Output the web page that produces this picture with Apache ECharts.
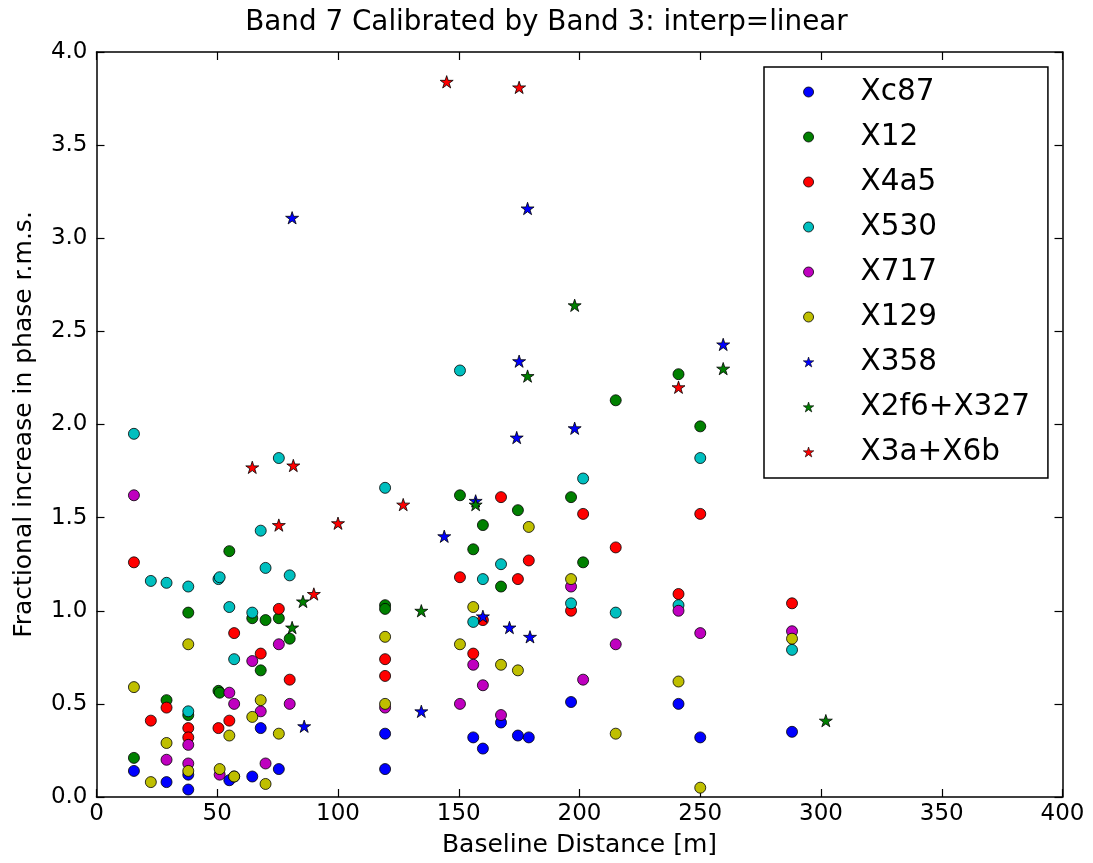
<!DOCTYPE html>
<html>
<head>
<meta charset="utf-8">
<title>Band 7 Calibrated by Band 3</title>
<script src="https://cdn.jsdelivr.net/npm/echarts@6/dist/echarts.min.js"></script>
<style>
  html, body { margin: 0; padding: 0; background: #ffffff; }
  #chart { width: 1093px; height: 863px; }
</style>
</head>
<body>
<div id="chart"></div>
<script>
// Baseline distance [m] vs fractional increase in phase r.m.s., one list per antenna group
const seriesNames = ['Xc87', 'X12', 'X4a5', 'X530', 'X717', 'X129', 'X358', 'X2f6+X327', 'X3a+X6b'];

const xc87 = [[15.5,0.14],[29,0.08],[38,0.04],[38,0.12],[55,0.09],[57,0.11],[64.5,0.11],[68,0.37],[75.5,0.15],
  [119.5,0.34],[119.5,0.15],[156,0.32],[160,0.26],[167.5,0.40],[174.5,0.33],[179,0.32],[196.5,0.51],[241,0.50],[250,0.32],[288,0.35]];
const x12 = [[15.5,0.21],[29,0.52],[38,0.99],[38,0.44],[50.5,0.57],[51,0.56],[55,1.32],[64.5,0.96],[68,0.68],[70,0.95],[75.5,0.96],[80,0.85],
  [119.5,1.03],[119.5,1.01],[150.5,1.62],[156,1.33],[160,1.46],[167.5,1.13],[174.5,1.54],[196.5,1.61],[201.5,1.26],[215,2.13],[241,2.27],[250,1.99]];
const x4a5 = [[15.5,1.26],[22.5,0.41],[29,0.48],[38,0.37],[38,0.32],[50.5,0.37],[55,0.41],[57,0.88],[68,0.77],[75.5,1.01],[80,0.63],
  [119.5,0.74],[119.5,0.65],[150.5,1.18],[156,0.77],[160,0.95],[167.5,1.61],[174.5,1.17],[179,1.27],[196.5,1.00],[201.5,1.52],[215,1.34],[241,1.09],[250,1.52],[288,1.04]];
const x530 = [[15.5,1.95],[22.5,1.16],[29,1.15],[38,1.13],[38,0.46],[50.5,1.17],[51,1.18],[55,1.02],[57,0.74],[64.5,0.99],[68,1.43],[70,1.23],[75.5,1.82],[80,1.19],
  [119.5,1.66],[150.5,2.29],[156,0.94],[160,1.17],[167.5,1.25],[196.5,1.04],[201.5,1.71],[215,0.99],[241,1.03],[250,1.82],[288,0.79]];
const x717 = [[15.5,1.62],[29,0.20],[38,0.28],[38,0.18],[51,0.12],[55,0.56],[57,0.50],[64.5,0.73],[68,0.46],[70,0.18],[75.5,0.82],[80,0.50],
  [119.5,0.48],[150.5,0.50],[156,0.71],[160,0.60],[167.5,0.44],[196.5,1.13],[201.5,0.63],[215,0.82],[241,1.00],[250,0.88],[288,0.89]];
const x129 = [[15.5,0.59],[22.5,0.08],[29,0.29],[38,0.82],[38,0.14],[51,0.15],[55,0.33],[57,0.11],[64.5,0.43],[68,0.52],[70,0.07],[75.5,0.34],
  [119.5,0.86],[119.5,0.50],[150.5,0.82],[156,1.02],[167.5,0.71],[174.5,0.68],[179,1.45],[196.5,1.17],[215,0.34],[241,0.62],[250,0.05],[288,0.85]];
const x358 = [[81,3.11],[86,0.38],[134.5,0.46],[144,1.40],[157,1.59],[160,0.97],[171,0.91],[174,1.93],[175,2.34],[178.5,3.16],[179.5,0.86],[198,1.98],[259.5,2.43]];
const x2f6x327 = [[81,0.91],[85.5,1.05],[134.5,1.00],[157,1.57],[178.5,2.26],[198,2.64],[259.5,2.30],[302,0.41]];
const x3ax6b = [[64.5,1.77],[75.5,1.46],[81.5,1.78],[90,1.09],[100,1.47],[127,1.57],[145,3.84],[175,3.81],[241,2.20]];

const seriesData = [xc87, x12, x4a5, x530, x717, x129, x358, x2f6x327, x3ax6b];
const seriesColors = ['#0000ff', '#008000', '#ff0000', '#00bfbf', '#bf00bf', '#bfbf00', '#0000ff', '#008000', '#ff0000'];
const seriesMarkers = ['circle', 'circle', 'circle', 'circle', 'circle', 'circle', 'star', 'star', 'star'];

// five-pointed star outline
const STAR = 'path://M50 0 L61.2 34.59 L97.55 34.55 L68.12 55.89 L79.39 90.45 L50 69.05 L20.61 90.45 L31.88 55.89 L2.45 34.55 L38.8 34.59 Z';

const FONT = '"DejaVu Sans", "Liberation Sans", sans-serif';
const frameLine = { show: true, onZero: false, lineStyle: { color: '#000', width: 1.5 } };
const innerTick = { show: true, inside: true, length: 8, lineStyle: { color: '#000', width: 1.2 } };

const chart = echarts.init(document.getElementById('chart'), null, { renderer: 'canvas' });

const series = seriesNames.map((name, i) => ({
  name: name,
  type: 'scatter',
  xAxisIndex: 0,
  yAxisIndex: 0,
  data: seriesData[i],
  symbol: seriesMarkers[i] === 'star' ? STAR : 'circle',
  symbolKeepAspect: true,
  symbolSize: seriesMarkers[i] === 'star' ? 13 : 11,
  itemStyle: { color: seriesColors[i], borderColor: '#000', borderWidth: 0.8, opacity: 1 },
  emphasis: { disabled: true },
  animation: false
}));

// legend entries: smaller markers than on the plot
const legendData = seriesNames.map((name, i) => ({
  name: name,
  icon: seriesMarkers[i] === 'star' ? STAR : 'circle',
  itemStyle: { color: seriesColors[i], borderColor: '#000', borderWidth: seriesMarkers[i] === 'star' ? 0.6 : 0.8 }
}));

chart.setOption({
  backgroundColor: '#ffffff',
  animation: false,
  title: {
    text: 'Band 7 Calibrated by Band 3: interp=linear',
    left: 'center',
    top: 4,
    textStyle: { fontFamily: FONT, fontSize: 27.8, fontWeight: 'normal', color: '#000' }
  },
  grid: { left: 96.5, right: 30.5, top: 52, bottom: 63, containLabel: false },
  xAxis: [
    {
      type: 'value', position: 'bottom', min: 0, max: 400, interval: 50,
      name: 'Baseline Distance [m]', nameLocation: 'middle', nameGap: 36,
      nameTextStyle: { fontFamily: FONT, fontSize: 25, color: '#000' },
      axisLine: frameLine, axisTick: innerTick, splitLine: { show: false },
      axisLabel: { fontFamily: FONT, fontSize: 23, color: '#000', margin: 6 }
    },
    {
      type: 'value', position: 'top', min: 0, max: 400, interval: 50,
      axisLine: frameLine, axisTick: innerTick, splitLine: { show: false },
      axisLabel: { show: false }
    }
  ],
  yAxis: [
    {
      type: 'value', position: 'left', min: 0, max: 4, interval: 0.5,
      name: 'Fractional increase in phase r.m.s.', nameLocation: 'middle', nameGap: 60,
      nameTextStyle: { fontFamily: FONT, fontSize: 25, color: '#000' },
      axisLine: frameLine, axisTick: innerTick, splitLine: { show: false },
      axisLabel: { fontFamily: FONT, fontSize: 23, color: '#000', margin: 9, formatter: v => v.toFixed(1) }
    },
    {
      type: 'value', position: 'right', min: 0, max: 4, interval: 0.5,
      axisLine: frameLine, axisTick: innerTick, splitLine: { show: false },
      axisLabel: { show: false }
    }
  ],
  legend: {
    data: legendData,
    orient: 'vertical',
    left: 764,
    top: 67,
    padding: [10, 18, 11, 39],
    itemWidth: 80,
    itemHeight: 10,
    itemGap: 15,
    backgroundColor: '#ffffff',
    borderColor: '#000',
    borderWidth: 1.5,
    borderRadius: 0,
    selectedMode: false,
    textStyle: { fontFamily: FONT, fontSize: 29.5, color: '#000', lineHeight: 30, padding: [0, 0, 0, 7] }
  },
  series: series
});
</script>
</body>
</html>
